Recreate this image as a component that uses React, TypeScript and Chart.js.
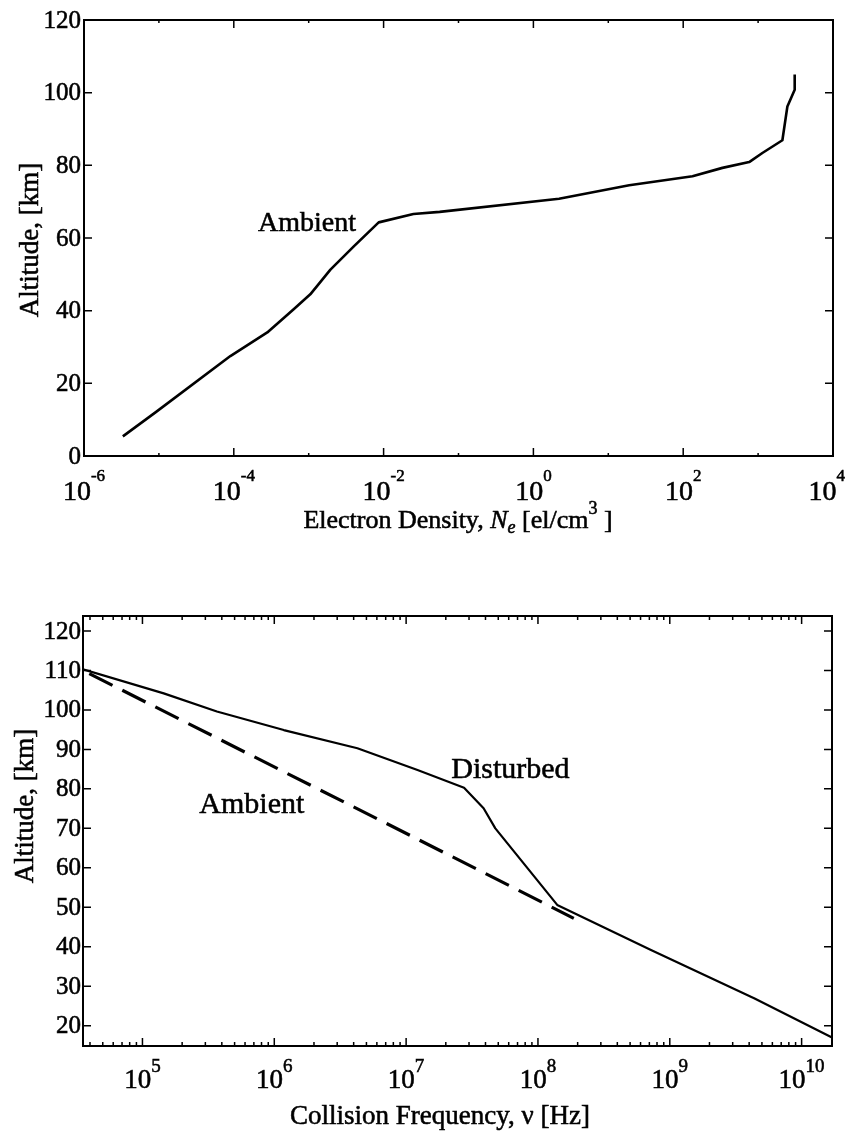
import React, { useEffect, useRef } from "react";
import { Chart, registerables } from "chart.js";

Chart.register(...registerables);

const FONT = '"Liberation Serif", "Times New Roman", serif';

// ---------- Top panel: electron density ----------
const densityValues = [3.3e-6, 9.0e-6, 9.0e-5, 2.8e-4, 6.3e-4, 1.05e-3, 1.95e-3, 4.0e-3, 8.6e-3, 0.025, 0.056, 2.2, 19, 133, 334, 760, 1140, 2110, 2460, 3080, 3080];
const densityAltitudes = [5.4, 12, 27.5, 34, 40.4, 44.5, 51.3, 57.7, 64.3, 66.6, 67.2, 70.8, 74.5, 77, 79.3, 80.9, 83.4, 86.9, 96.2, 100.8, 105];
const densityMajorExps = [-6, -4, -2, 0, 2, 4];
const densityMinorExps = [-5, -3, -1, 1, 3];
const densityAltTicks = [0, 20, 40, 60, 80, 100, 120];
const topNoteText = ["Ambient"];
const topNoteX = [9.5e-4];
const topNoteY = [64.4];

// ---------- Bottom panel: collision frequency ----------
const disturbedFreq = [3.54e4, 1.45e5, 3.67e5, 1.18e6, 4.27e6, 1.22e7, 2.75e7, 3.87e7, 4.75e7, 1.4e8, 7.2e8, 4.4e9, 1.7e10];
const disturbedAlt = [110.3, 104.2, 99.6, 94.9, 90.3, 84.8, 80.3, 75.1, 70.0, 50.6, 39.2, 26.9, 17.0];
const ambientFreq = [3.95e4, 1.15e7, 1.87e8];
const ambientAlt = [109.2, 67.7, 47.2];
const freqMajorExps = [5, 6, 7, 8, 9, 10];
const freqMinorMultipliers = [2, 3, 4, 5, 6, 7, 8, 9];
const freqAltTicks = [20, 30, 40, 50, 60, 70, 80, 90, 100, 110, 120];
const bottomNoteText = ["Ambient", "Disturbed"];
const bottomNoteX = [6.75e5, 6.18e7];
const bottomNoteY = [76.4, 85.3];

type Seg = { text: string; font: string; dy: number };

type PanelSpec = {
  xMajor: number[];
  xMinor: number[];
  xLabelExps: number[];
  majorLen: number;
  minorLen: number;
  yTicks: number[];
  baseFont: string;
  expFont: string;
  xLabelBaseline: number;
  expRaise: number;
  xLabelMaxRight: number;
  yLabelFont: string;
  yLabelRight: number;
  xTitle: Seg[];
  xTitleCenter: number;
  xTitleBaseline: number;
  yTitle: string;
  yTitleFont: string;
  yTitleX: number;
  yTitleCenterY: number;
  noteText: string[];
  noteX: number[];
  noteY: number[];
  noteFont: string;
  noteSize: number;
};

const TEXT_STROKE = 0.55;

function ink(ctx: CanvasRenderingContext2D, text: string, x: number, y: number) {
  ctx.fillText(text, x, y);
  ctx.lineWidth = TEXT_STROKE;
  ctx.strokeText(text, x, y);
}

function makePanelPlugin(spec: PanelSpec) {
  return {
    id: "panelFrame",
    afterDatasetsDraw(chart: any) {
      const { ctx, chartArea: a } = chart;
      const xs = chart.scales.x;
      const ys = chart.scales.y;
      ctx.save();
      ctx.fillStyle = "#000";
      ctx.strokeStyle = "#000";
      // frame
      ctx.lineWidth = 2;
      ctx.strokeRect(a.left, a.top, a.right - a.left, a.bottom - a.top);
      // ticks
      ctx.lineWidth = 1.5;
      ctx.beginPath();
      const xTick = (v: number, len: number) => {
        const px = xs.getPixelForValue(v);
        if (px < a.left - 0.5 || px > a.right + 0.5) return;
        ctx.moveTo(px, a.bottom);
        ctx.lineTo(px, a.bottom - len);
        ctx.moveTo(px, a.top);
        ctx.lineTo(px, a.top + len);
      };
      spec.xMajor.forEach((v) => xTick(v, spec.majorLen));
      spec.xMinor.forEach((v) => xTick(v, spec.minorLen));
      spec.yTicks.forEach((v) => {
        const py = ys.getPixelForValue(v);
        ctx.moveTo(a.left, py);
        ctx.lineTo(a.left + spec.majorLen, py);
        ctx.moveTo(a.right, py);
        ctx.lineTo(a.right - spec.majorLen, py);
      });
      ctx.stroke();

      // y tick labels
      ctx.font = spec.yLabelFont;
      ctx.textAlign = "right";
      ctx.textBaseline = "middle";
      spec.yTicks.forEach((v) => {
        const py = ys.getPixelForValue(v);
        ink(ctx, String(v), spec.yLabelRight, py + 1);
      });

      // x tick labels 10^n
      ctx.textAlign = "left";
      ctx.textBaseline = "alphabetic";
      spec.xLabelExps.forEach((e) => {
        const px = xs.getPixelForValue(Math.pow(10, e));
        ctx.font = spec.baseFont;
        const wb = ctx.measureText("10").width;
        ctx.font = spec.expFont;
        const es = String(e);
        const we = ctx.measureText(es).width;
        let start = px - (wb + we) / 2;
        if (start + wb + we > spec.xLabelMaxRight) start = spec.xLabelMaxRight - wb - we;
        ctx.font = spec.baseFont;
        ink(ctx, "10", start, spec.xLabelBaseline);
        ctx.font = spec.expFont;
        ink(ctx, es, start + wb, spec.xLabelBaseline - spec.expRaise);
      });

      // x title (segments)
      let total = 0;
      spec.xTitle.forEach((s) => {
        ctx.font = s.font;
        total += ctx.measureText(s.text).width;
      });
      let cx = spec.xTitleCenter - total / 2;
      spec.xTitle.forEach((s) => {
        ctx.font = s.font;
        ink(ctx, s.text, cx, spec.xTitleBaseline + s.dy);
        cx += ctx.measureText(s.text).width;
      });

      // y title
      ctx.save();
      ctx.translate(spec.yTitleX, spec.yTitleCenterY);
      ctx.rotate(-Math.PI / 2);
      ctx.font = spec.yTitleFont;
      ctx.textAlign = "center";
      ink(ctx, spec.yTitle, 0, 0);
      ctx.restore();

      // notes
      ctx.font = spec.noteFont;
      ctx.textAlign = "center";
      ctx.textBaseline = "alphabetic";
      spec.noteText.forEach((t, i) => {
        const px = xs.getPixelForValue(spec.noteX[i]);
        const py = ys.getPixelForValue(spec.noteY[i]);
        ink(ctx, t, px, py + spec.noteSize * 0.33);
      });
      ctx.restore();
    },
  };
}

function hiddenScale(type: string, min: number, max: number, isX: boolean) {
  return {
    type,
    min,
    max,
    ticks: { display: false },
    grid: { display: false, drawTicks: false },
    border: { display: false },
    title: { display: false },
    afterFit: (s: any) => {
      if (isX) s.height = 0;
      else s.width = 0;
    },
  };
}

function Panel(props: {
  top: number;
  height: number;
  datasets: any[];
  xMin: number;
  xMax: number;
  yMin: number;
  yMax: number;
  padding: { left: number; right: number; top: number; bottom: number };
  spec: PanelSpec;
}) {
  const ref = useRef<HTMLCanvasElement | null>(null);
  useEffect(() => {
    if (!ref.current) return;
    const chart = new Chart(ref.current, {
      type: "scatter",
      data: { datasets: props.datasets },
      options: {
        animation: false,
        responsive: false,
        maintainAspectRatio: false,
        devicePixelRatio: 1,
        layout: { padding: props.padding },
        plugins: { legend: { display: false }, tooltip: { enabled: false } },
        scales: {
          x: hiddenScale("logarithmic", props.xMin, props.xMax, true) as any,
          y: hiddenScale("linear", props.yMin, props.yMax, false) as any,
        },
      },
      plugins: [makePanelPlugin(props.spec)],
    } as any);
    return () => chart.destroy();
  }, []);
  return (
    <canvas
      ref={ref}
      width={847}
      height={props.height}
      style={{ position: "absolute", left: 0, top: props.top, width: 847, height: props.height, display: "block" }}
    />
  );
}

function toPoints(xs: number[], ys: number[]) {
  return xs.map((x, i) => ({ x, y: ys[i] }));
}

export default function App() {
  const topDatasets = [
    {
      data: toPoints(densityValues, densityAltitudes),
      showLine: true,
      pointRadius: 0,
      borderColor: "#000",
      borderWidth: 2.6,
      tension: 0,
      borderJoinStyle: "round",
    },
  ];
  const bottomDatasets = [
    {
      data: toPoints(disturbedFreq, disturbedAlt),
      showLine: true,
      pointRadius: 0,
      borderColor: "#000",
      borderWidth: 2.2,
      tension: 0,
      borderJoinStyle: "round",
    },
    {
      data: toPoints(ambientFreq, ambientAlt),
      showLine: true,
      pointRadius: 0,
      borderColor: "#000",
      borderWidth: 3.2,
      borderDash: [26, 11],
      borderCapStyle: "butt",
      tension: 0,
    },
  ];

  const freqMinor: number[] = [];
  [4, 5, 6, 7, 8, 9, 10].forEach((e) =>
    freqMinorMultipliers.forEach((m) => freqMinor.push(m * Math.pow(10, e)))
  );

  const topSpec: PanelSpec = {
    xMajor: densityMajorExps.map((e) => Math.pow(10, e)),
    xMinor: densityMinorExps.map((e) => Math.pow(10, e)),
    xLabelExps: densityMajorExps,
    majorLen: 8,
    minorLen: 3,
    yTicks: densityAltTicks,
    baseFont: `28px ${FONT}`,
    expFont: `17px ${FONT}`,
    xLabelBaseline: 500,
    expRaise: 19,
    xLabelMaxRight: 845,
    yLabelFont: `25px ${FONT}`,
    yLabelRight: 81,
    xTitle: [
      { text: "Electron Density, ", font: `26px ${FONT}`, dy: 0 },
      { text: "N", font: `italic 26px ${FONT}`, dy: 0 },
      { text: "e", font: `italic 18px ${FONT}`, dy: 5 },
      { text: " [el/cm", font: `26px ${FONT}`, dy: 0 },
      { text: "3", font: `18px ${FONT}`, dy: -14 },
      { text: " ]", font: `26px ${FONT}`, dy: 0 },
    ],
    xTitleCenter: 458,
    xTitleBaseline: 528,
    yTitle: "Altitude, [km]",
    yTitleFont: `27px ${FONT}`,
    yTitleX: 38,
    yTitleCenterY: 240,
    noteText: topNoteText,
    noteX: topNoteX,
    noteY: topNoteY,
    noteFont: `28px ${FONT}`,
    noteSize: 28,
  };

  const bottomSpec: PanelSpec = {
    xMajor: freqMajorExps.map((e) => Math.pow(10, e)),
    xMinor: freqMinor,
    xLabelExps: freqMajorExps,
    majorLen: 8,
    minorLen: 4,
    yTicks: freqAltTicks,
    baseFont: `27px ${FONT}`,
    expFont: `19px ${FONT}`,
    xLabelBaseline: 528,
    expRaise: 16,
    xLabelMaxRight: 845,
    yLabelFont: `25px ${FONT}`,
    yLabelRight: 81,
    xTitle: [{ text: "Collision Frequency, \u03bd [Hz]", font: `27px ${FONT}`, dy: 0 }],
    xTitleCenter: 440,
    xTitleBaseline: 564,
    yTitle: "Altitude, [km]",
    yTitleFont: `27px ${FONT}`,
    yTitleX: 33,
    yTitleCenterY: 246,
    noteText: bottomNoteText,
    noteX: bottomNoteX,
    noteY: bottomNoteY,
    noteFont: `30px ${FONT}`,
    noteSize: 30,
  };

  return (
    <div style={{ position: "absolute", left: 0, top: 0, width: 847, height: 1133, background: "#fff" }}>
      <Panel
        top={0}
        height={560}
        datasets={topDatasets}
        xMin={1e-6}
        xMax={1e4}
        yMin={0}
        yMax={120}
        padding={{ left: 84, right: 14, top: 20, bottom: 104 }}
        spec={topSpec}
      />
      <Panel
        top={560}
        height={573}
        datasets={bottomDatasets}
        xMin={3.54e4}
        xMax={1.7e10}
        yMin={14.85}
        yMax={123.8}
        padding={{ left: 83, right: 15, top: 56, bottom: 87 }}
        spec={bottomSpec}
      />
    </div>
  );
}
